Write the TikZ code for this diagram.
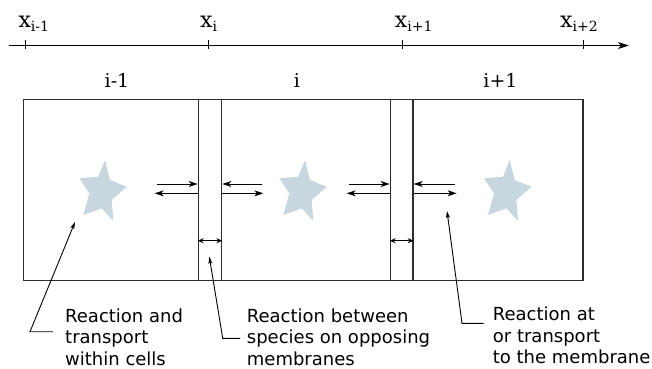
\documentclass[tikz,border=0pt]{standalone}
\usepackage{fontspec}
\setmainfont{DejaVu Sans}
\newfontfamily\serifface{DejaVu Serif}
\usetikzlibrary{arrows.meta, shapes, positioning}
\definecolor{starblue}{RGB}{200,214,224}
\definecolor{wallgray}{RGB}{45,45,45}

\begin{document}
\begin{tikzpicture}[x=1pt, y=-1pt,
    flux/.style={-{Stealth[length=9pt, width=6pt, inset=2.5pt]}, line width=1},
    swap/.style={{Stealth[length=6pt, width=5pt, inset=2pt]}-{Stealth[length=6pt, width=5pt, inset=2pt]}, line width=1},
    pointer/.style={-{Stealth[length=7pt, width=4pt, inset=1.5pt]}, line width=0.9},
    membrane/.style={draw=wallgray, line width=1.3, minimum width=23.4, minimum height=181.4, inner sep=0},
    species/.style={fill=starblue, draw=none},
    note/.style={align=left, anchor=base west, inner sep=0, font=\fontsize{18}{21.5}\selectfont},
    gridlabel/.style={anchor=base west, inner sep=0, font=\serifface\fontsize{22}{26}\selectfont},
    celllabel/.style={anchor=base, inner sep=0, font=\serifface\fontsize{19}{23}\selectfont}]
    \useasboundingbox (0,0) rectangle (652,368);

      % axis %
      \coordinate (ax0) at (8.5,45.5);
      \coordinate (ax1) at (629,45.5);
      \draw[-{Stealth[length=11pt, width=7pt, inset=3pt]}, line width = 1] (ax0) -- (ax1);
      \draw[line width = 1] (25.7,40) -- (25.7,49);
      \draw[line width = 1] (208,40) -- (208,49);
      \draw[line width = 1] (402,40) -- (402,49);
      \draw[line width = 1] (583,40) -- (583,49);
      \node[gridlabel] (xa) at (18.3,27) {x\raisebox{-4pt}{\fontsize{14}{16}\selectfont i-1}};
      \node[gridlabel] (xb) at (200,27) {x\raisebox{-4pt}{\fontsize{14}{16}\selectfont i}};
      \node[gridlabel] (xc) at (394.7,27) {x\raisebox{-4pt}{\fontsize{14}{16}\selectfont i+1}};
      \node[gridlabel] (xd) at (560,27) {x\raisebox{-4pt}{\fontsize{14}{16}\selectfont i+2}};

      % cells %
      \node[celllabel] (ca) at (117,87) {i-1};
      \node[celllabel] (cb) at (297,87) {i};
      \node[celllabel] (cc) at (500.5,87) {i+1};
      \draw[draw=wallgray, line width = 1.3] (23.3,99.3) rectangle (583,280.7);
      \node[membrane] (m1) at (210,190) {};
      \node[membrane, minimum width=22.7] (m2) at (401.65,190) {};

      % species %
      \coordinate (s1) at (100,192);
      \coordinate (s2) at (300,192);
      \coordinate (s3) at (504.7,192);
      \fill[species, shift={(s1)}] (5,-32) -- (10,-12) -- (26.7,-5.3) -- (11.7,8) -- (13.3,29) -- (1.7,16.3) -- (-16.7,23) -- (-10.7,1.3) -- (-20.7,-13.7) -- (-1.7,-15.3) -- cycle;
      \fill[species, shift={(s2)}] (5,-32) -- (10,-12) -- (26.7,-5.3) -- (11.7,8) -- (13.3,29) -- (1.7,16.3) -- (-16.7,23) -- (-10.7,1.3) -- (-20.7,-13.7) -- (-1.7,-15.3) -- cycle;
      \fill[species, shift={(s3)}] (5,-32) -- (10,-12) -- (26.7,-5.3) -- (11.7,8) -- (13.3,29) -- (1.7,16.3) -- (-16.7,23) -- (-10.7,1.3) -- (-20.7,-13.7) -- (-1.7,-15.3) -- cycle;

      % fluxes %
      \draw[flux] ([xshift=-41pt, yshift=6pt]m1.west) -- ([yshift=6pt]m1.west);
      \draw[flux] ([yshift=-3.3pt]m1.west) -- ([xshift=-43pt, yshift=-3.3pt]m1.west);
      \draw[flux] ([xshift=40pt, yshift=6pt]m1.east) -- ([yshift=6pt]m1.east);
      \draw[flux] ([yshift=-3.3pt]m1.east) -- ([xshift=41pt, yshift=-3.3pt]m1.east);
      \draw[flux] ([xshift=-41pt, yshift=6pt]m2.west) -- ([yshift=6pt]m2.west);
      \draw[flux] ([yshift=-3.3pt]m2.west) -- ([xshift=-43pt, yshift=-3.3pt]m2.west);
      \draw[flux] ([xshift=41pt, yshift=6pt]m2.east) -- ([yshift=6pt]m2.east);
      \draw[flux] ([yshift=-3.3pt]m2.east) -- ([xshift=43pt, yshift=-3.3pt]m2.east);
      \draw[swap] ([yshift=-50.7pt]m1.west) -- ([yshift=-50.7pt]m1.east);
      \draw[swap] ([yshift=-50.7pt]m2.west) -- ([yshift=-50.7pt]m2.east);

      % notes %
      \node[note] (n1) at (65,365) {Reaction and\\transport\\within cells};
      \node[note] (n2) at (246.7,365) {Reaction between\\species on opposing\\membranes};
      \node[note] (n3) at (492.7,363.5) {Reaction at\\or transport\\to the membrane};
      \coordinate (t1) at (75,222);
      \coordinate (t2) at (209.3,256.7);
      \coordinate (t3) at (447,211);
      \draw[pointer] (53,331.7) -- (30,331.7) -- (t1);
      \draw[pointer] (240,338.3) -- (222.7,338.3) -- (t2);
      \draw[pointer] (483.7,323.3) -- (462,323.3) -- (t3);
\end{tikzpicture}
\end{document}
